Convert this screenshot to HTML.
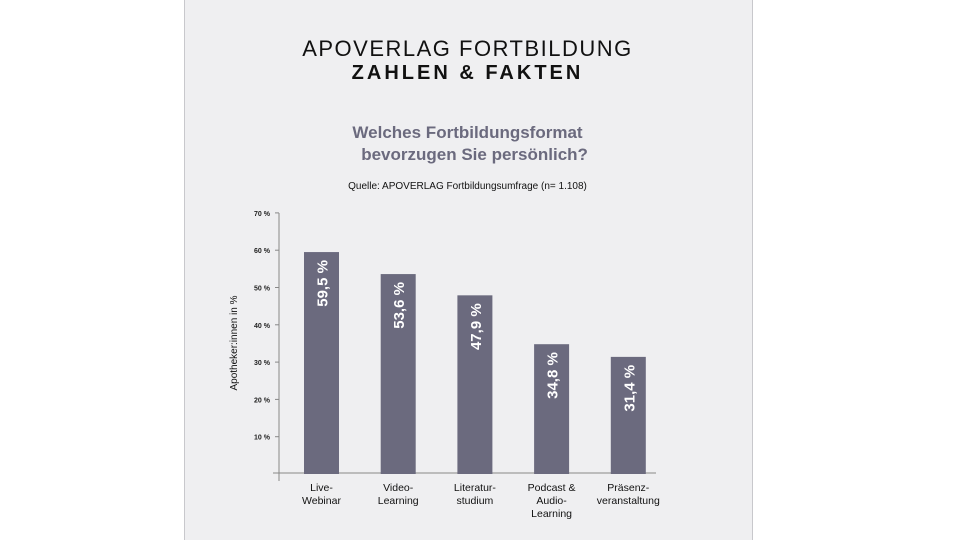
<!DOCTYPE html>
<html><head><meta charset="utf-8">
<style>
body{margin:0;width:960px;height:540px;background:#fff;font-family:"Liberation Sans",sans-serif;overflow:hidden}
#panel{position:absolute;left:184px;top:0;width:567px;height:540px;background:#efeff1;border-left:1px solid #c8c8cc;border-right:1px solid #c8c8cc}
.t{position:absolute;left:0;width:100%;text-align:center}
</style></head><body>
<div id="panel"></div>
<div class="t" style="left:184px;width:567px;top:36px;font-size:22px;letter-spacing:1.5px;color:#111;">APOVERLAG FORTBILDUNG</div>
<div class="t" style="left:184px;width:567px;top:62px;font-size:20px;font-weight:bold;letter-spacing:3px;color:#111;">ZAHLEN &amp; FAKTEN</div>
<div class="t" style="left:184px;width:567px;top:122px;font-size:17px;font-weight:bold;color:#6b6a7e;line-height:22px;">Welches Fortbildungsformat<br>&nbsp;&nbsp;&nbsp;bevorzugen Sie persönlich?</div>
<div class="t" style="left:184px;width:567px;top:181px;font-size:10px;color:#111;">Quelle: APOVERLAG Fortbildungsumfrage (n= 1.108)</div>
<svg id="chart" width="960" height="540" style="position:absolute;left:0;top:0"></svg>
<script>
const categories=[["Live-","Webinar"],["Video-","Learning"],["Literatur-","studium"],["Podcast &","Audio-","Learning"],["Präsenz-","veranstaltung"]];
const values=[59.5,53.6,47.9,34.8,31.4];
const valueLabels=["59,5 %","53,6 %","47,9 %","34,8 %","31,4 %"];
const ticks=[10,20,30,40,50,60,70];
const NS="http://www.w3.org/2000/svg";
const svg=document.getElementById('chart');
const y0=474,pxPer=37.3/10;
const y=v=>y0-v*pxPer;
const x=i=>321.5+i*76.7;
function mk(t,a,txt){const e=document.createElementNS(NS,t);for(const k in a)e.setAttribute(k,a[k]);if(txt!==undefined)e.textContent=txt;svg.appendChild(e);return e;}
let ax=mk('line',{x1:279,y1:213,x2:279,y2:481,stroke:'#888','stroke-width':1});

let bx=mk('line',{x1:273,y1:473,x2:656,y2:473,stroke:'#888','stroke-width':1});

ticks.forEach(t=>{
 let l=mk('line',{x1:275,y1:y(t),x2:279,y2:y(t),stroke:'#888'});
 
 let tx=mk('text',{x:270,y:y(t)+3,'text-anchor':'end','font-size':7,'font-weight':'bold',fill:'#222'},t+' %');
 
});
let yt=mk('text',{transform:'translate(237,343) rotate(-90)','text-anchor':'middle','font-size':10,fill:'#111'},'Apotheker:innen in %');

values.forEach((v,i)=>{
 let r=mk('rect',{x:x(i)-17.5,y:y(v),width:35,height:y0-y(v),fill:'#6b6a7e'});
 
 let cx=x(i)+6,cy=y(v)+8;
 let lt=mk('text',{transform:`translate(${cx},${cy}) rotate(-90)`,'text-anchor':'end','font-size':15,'font-weight':'bold',fill:'#fff'},valueLabels[i]);
 
 categories[i].forEach((s,j)=>{
  let c=mk('text',{x:x(i),y:491+j*13,'text-anchor':'middle','font-size':10.5,fill:'#111'},s);
  
 });
});
</script>
</body></html>
